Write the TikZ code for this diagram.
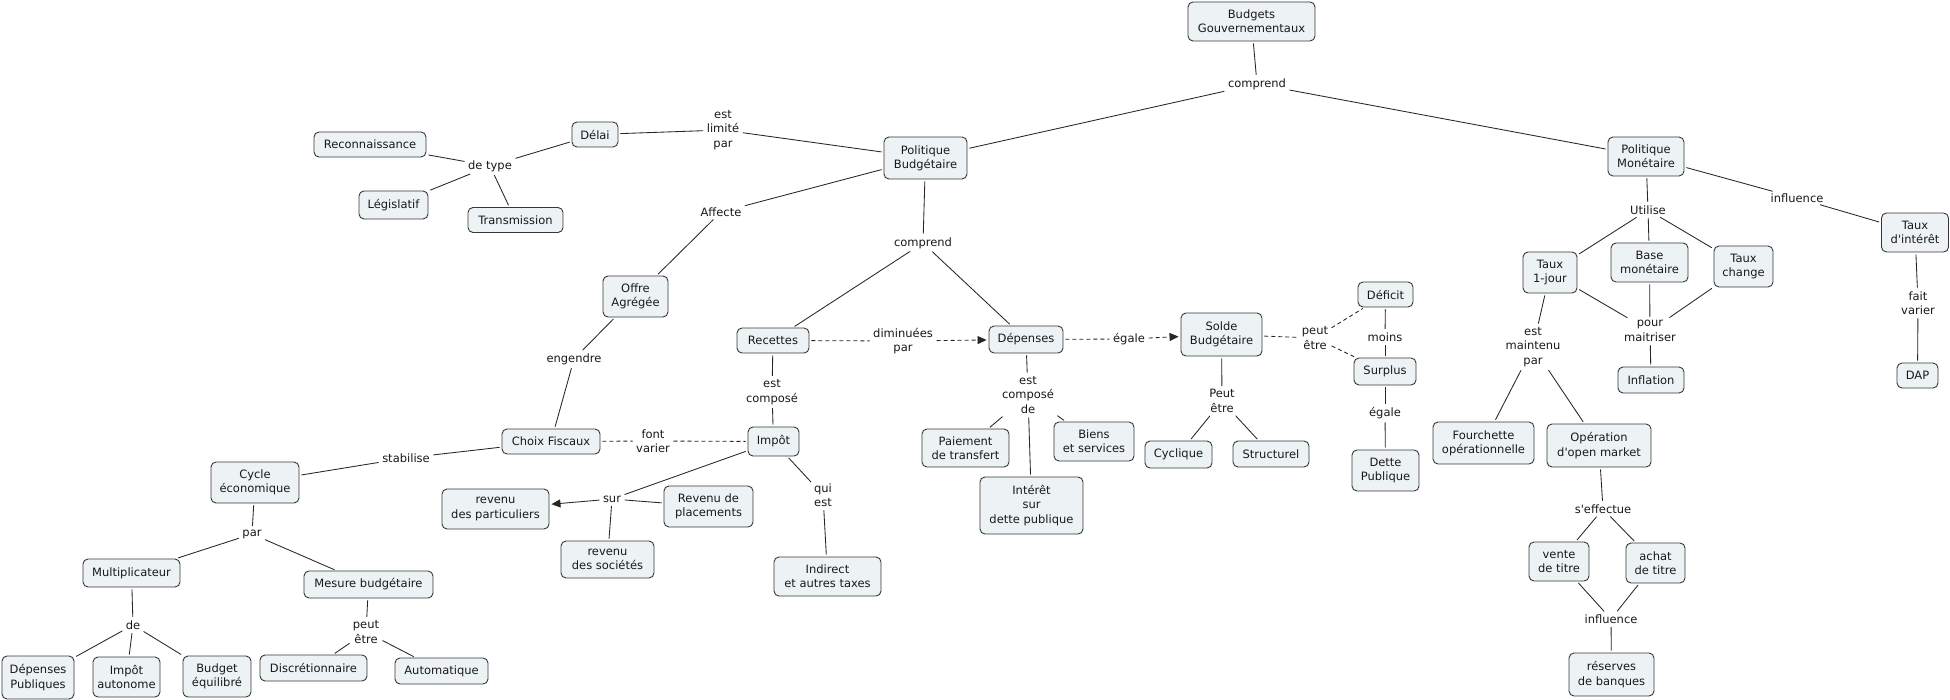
\documentclass[tikz,border=0pt]{standalone}
\usepackage{fontspec}
\setmainfont{DejaVu Sans}[Ligatures=TeXOff]
\usetikzlibrary{arrows.meta}
\definecolor{boxfill}{RGB}{237,243,245}
\definecolor{boxline}{RGB}{55,55,55}
\definecolor{txt}{RGB}{25,25,25}
\tikzset{
  cbox/.style={draw=boxline, fill=boxfill, line width=0.9pt, rounded corners=5pt, align=center, inner sep=2pt, text=txt, font=\fontsize{11.5}{14.3}\selectfont},
  lbl/.style={align=center, inner sep=1.5pt, text=txt, font=\fontsize{11.5}{14.5}\selectfont},
  cn/.style={draw=black!85, line width=0.85pt, shorten <=2pt, shorten >=2pt},
  dcn/.style={cn, dash pattern=on 4pt off 3pt},
  arr/.style={-{Triangle[length=9pt,width=8pt]}},
}
\begin{document}
\begin{tikzpicture}[x=1pt,y=-1pt]
\fill[white] (0,0) rectangle (1950,700);
\useasboundingbox (0,0) rectangle (1950,700);
% concept boxes
\node[cbox,minimum width=127pt,minimum height=39pt] (bg) at (1251.5,21.5) {Budgets\\Gouvernementaux};
\node[cbox,minimum width=83pt,minimum height=42pt] (pb) at (925.5,158) {Politique\\Budgétaire};
\node[cbox,minimum width=76pt,minimum height=39pt] (pm) at (1646,156.5) {Politique\\Monétaire};
\node[cbox,minimum width=46pt,minimum height=25pt] (delai) at (595,134.5) {Délai};
\node[cbox,minimum width=112pt,minimum height=25pt] (recon) at (370,144.5) {Reconnaissance};
\node[cbox,minimum width=69pt,minimum height=28pt] (legis) at (393.5,205) {Législatif};
\node[cbox,minimum width=95pt,minimum height=25pt] (transm) at (515.5,220) {Transmission};
\node[cbox,minimum width=65pt,minimum height=41pt] (offre) at (635.5,296.5) {Offre\\Agrégée};
\node[cbox,minimum width=98pt,minimum height=25pt] (choix) at (551,441.5) {Choix Fiscaux};
\node[cbox,minimum width=88pt,minimum height=41pt] (cycle) at (255,482.5) {Cycle\\économique};
\node[cbox,minimum width=97pt,minimum height=28pt] (multi) at (131.5,573) {Multiplicateur};
\node[cbox,minimum width=129pt,minimum height=27pt] (mesure) at (368.5,584.5) {Mesure budgétaire};
\node[cbox,minimum width=72pt,minimum height=43pt] (deppub) at (38,677.5) {Dépenses\\Publiques};
\node[cbox,minimum width=67pt,minimum height=40pt] (impaut) at (126.5,677) {Impôt\\autonome};
\node[cbox,minimum width=68pt,minimum height=41pt] (budeq) at (217,676.5) {Budget\\équilibré};
\node[cbox,minimum width=107pt,minimum height=26pt] (discr) at (313.5,668) {Discrétionnaire};
\node[cbox,minimum width=93pt,minimum height=26pt] (autom) at (441.5,671) {Automatique};
\node[cbox,minimum width=72pt,minimum height=25pt] (recettes) at (773,340.5) {Recettes};
\node[cbox,minimum width=51pt,minimum height=29pt] (impot) at (773.5,441.5) {Impôt};
\node[cbox,minimum width=107pt,minimum height=40pt] (revpart) at (495.5,509) {revenu\\des particuliers};
\node[cbox,minimum width=89pt,minimum height=41pt] (revplac) at (708.5,506.5) {Revenu de\\placements};
\node[cbox,minimum width=93pt,minimum height=37pt] (revsoc) at (607.5,559.5) {revenu\\des sociétés};
\node[cbox,minimum width=107pt,minimum height=39pt] (indirect) at (827.5,576.5) {Indirect\\et autres taxes};
\node[cbox,minimum width=74pt,minimum height=27pt] (depenses) at (1026,339.5) {Dépenses};
\node[cbox,minimum width=87pt,minimum height=38pt] (paiement) at (965.5,448) {Paiement\\de transfert};
\node[cbox,minimum width=80pt,minimum height=39pt] (biens) at (1094,441.5) {Biens\\et services};
\node[cbox,minimum width=103pt,minimum height=57pt] (interet) at (1031.5,505.5) {Intérêt\\sur\\dette publique};
\node[cbox,minimum width=81pt,minimum height=43pt] (solde) at (1221.5,334.5) {Solde\\Budgétaire};
\node[cbox,minimum width=67pt,minimum height=27pt] (cyclique) at (1178.5,454.5) {Cyclique};
\node[cbox,minimum width=76pt,minimum height=26pt] (struct) at (1271,454) {Structurel};
\node[cbox,minimum width=55pt,minimum height=25pt] (deficit) at (1385.5,294.5) {Déficit};
\node[cbox,minimum width=62pt,minimum height=27pt] (surplus) at (1385,371.5) {Surplus};
\node[cbox,minimum width=67pt,minimum height=41pt] (dette) at (1385.5,470.5) {Dette\\Publique};
\node[cbox,minimum width=54pt,minimum height=41pt] (taux1) at (1550,272.5) {Taux\\1-jour};
\node[cbox,minimum width=77pt,minimum height=39pt] (base) at (1649.5,262.5) {Base\\monétaire};
\node[cbox,minimum width=59pt,minimum height=41pt] (tchange) at (1743.5,266.5) {Taux\\change};
\node[cbox,minimum width=66pt,minimum height=26pt] (inflation) at (1651,380) {Inflation};
\node[cbox,minimum width=101pt,minimum height=42pt] (fourch) at (1483.5,443) {Fourchette\\opérationnelle};
\node[cbox,minimum width=104pt,minimum height=43pt] (oper) at (1599,445.5) {Opération\\d'open market};
\node[cbox,minimum width=60pt,minimum height=39pt] (vente) at (1559,561.5) {vente\\de titre};
\node[cbox,minimum width=59pt,minimum height=40pt] (achat) at (1655.5,563) {achat\\de titre};
\node[cbox,minimum width=85pt,minimum height=43pt] (reserves) at (1611.5,674.5) {réserves\\de banques};
\node[cbox,minimum width=67pt,minimum height=39pt] (tinteret) at (1915,232.5) {Taux\\d'intérêt};
\node[cbox,minimum width=41pt,minimum height=25pt] (dap) at (1917.5,375.5) {DAP};
% linking phrases
\node[lbl] (lcompA) at (1257,84) {comprend};
\node[lbl] (llimite) at (723,130) {est\\limité\\par};
\node[lbl] (ldetype) at (490,166) {de type};
\node[lbl] (laffecte) at (721,212) {Affecte};
\node[lbl] (lcompB) at (923,243) {comprend};
\node[lbl] (lengendre) at (574,359) {engendre};
\node[lbl] (lfontvar) at (653,441) {font\\varier};
\node[lbl] (lstab) at (406,458) {stabilise};
\node[lbl] (lpar) at (252,534) {par};
\node[lbl] (lde) at (133,625) {de};
\node[lbl] (lpeutA) at (366,632) {peut\\être};
\node[lbl] (lestcomp) at (772,392) {est\\composé};
\node[lbl] (ldimin) at (903,341) {diminuées\\par};
\node[lbl] (lsur) at (612,499) {sur};
\node[lbl] (lquiest) at (823,495) {qui\\est};
\node[lbl] (lestcompde) at (1028,395) {est\\composé\\de};
\node[lbl] (legaleA) at (1129,339) {égale};
\node[lbl] (lpeutB) at (1222,401) {Peut\\être};
\node[lbl] (lpeutC) at (1315,338) {peut\\être};
\node[lbl] (lmoins) at (1385,337) {moins};
\node[lbl] (legaleB) at (1385,413) {égale};
\node[lbl] (lutilise) at (1648,210) {Utilise};
\node[lbl] (linflA) at (1797,198) {influence};
\node[lbl] (lfaitvar) at (1918,303) {fait\\varier};
\node[lbl] (lpour) at (1650,331) {pour\\maitriser};
\node[lbl] (lmaintenu) at (1533,347) {est\\maintenu\\par};
\node[lbl] (leffectue) at (1603,509) {s'effectue};
\node[lbl] (linflB) at (1611,619) {influence};
% connectors
\draw[cn] (bg) -- (lcompA);
\draw[cn] (lcompA) -- (pb);
\draw[cn] (lcompA) -- (pm);
\draw[cn] (delai) -- (llimite);
\draw[cn] (llimite) -- (pb);
\draw[cn] (recon) -- (ldetype);
\draw[cn] (legis) -- (ldetype);
\draw[cn] (transm) -- (ldetype);
\draw[cn] (ldetype) -- (delai);
\draw[cn] (pb) -- (laffecte);
\draw[cn] (laffecte) -- (offre);
\draw[cn] (pb) -- (lcompB);
\draw[cn] (lcompB) -- (recettes);
\draw[cn] (lcompB) -- (depenses);
\draw[cn] (offre) -- (lengendre);
\draw[cn] (lengendre) -- (choix);
\draw[dcn] (choix) -- (lfontvar);
\draw[dcn] (lfontvar) -- (impot);
\draw[cn] (choix) -- (lstab);
\draw[cn] (lstab) -- (cycle);
\draw[cn] (cycle) -- (lpar);
\draw[cn] (lpar) -- (multi);
\draw[cn] (lpar) -- (mesure);
\draw[cn] (multi) -- (lde);
\draw[cn] (lde) -- (deppub);
\draw[cn] (lde) -- (impaut);
\draw[cn] (lde) -- (budeq);
\draw[cn] (mesure) -- (lpeutA);
\draw[cn] (lpeutA) -- (discr);
\draw[cn] (lpeutA) -- (autom);
\draw[cn] (recettes) -- (lestcomp);
\draw[cn] (lestcomp) -- (impot);
\draw[dcn] (recettes) -- (ldimin);
\draw[dcn,arr] (ldimin) -- (depenses);
\draw[cn] (impot) -- (lsur);
\draw[cn,arr] (lsur) -- (revpart);
\draw[cn] (lsur) -- (revplac);
\draw[cn] (lsur) -- (revsoc);
\draw[cn] (impot) -- (lquiest);
\draw[cn] (lquiest) -- (indirect);
\draw[cn] (depenses) -- (lestcompde);
\draw[cn] (lestcompde) -- (paiement);
\draw[cn] (lestcompde) -- (biens);
\draw[cn] (lestcompde) -- (interet);
\draw[dcn] (depenses) -- (legaleA);
\draw[dcn,arr] (legaleA) -- (solde);
\draw[cn] (solde) -- (lpeutB);
\draw[cn] (lpeutB) -- (cyclique);
\draw[cn] (lpeutB) -- (struct);
\draw[dcn] (solde) -- (lpeutC);
\draw[dcn] (lpeutC) -- (deficit);
\draw[dcn] (lpeutC) -- (surplus);
\draw[cn] (deficit) -- (lmoins);
\draw[cn] (lmoins) -- (surplus);
\draw[cn] (surplus) -- (legaleB);
\draw[cn] (legaleB) -- (dette);
\draw[cn] (pm) -- (lutilise);
\draw[cn] (lutilise) -- (taux1);
\draw[cn] (lutilise) -- (base);
\draw[cn] (lutilise) -- (tchange);
\draw[cn] (pm) -- (linflA);
\draw[cn] (linflA) -- (tinteret);
\draw[cn] (tinteret) -- (lfaitvar);
\draw[cn] (lfaitvar) -- (dap);
\draw[cn] (taux1) -- (lpour);
\draw[cn] (base) -- (lpour);
\draw[cn] (tchange) -- (lpour);
\draw[cn] (lpour) -- (inflation);
\draw[cn] (taux1) -- (lmaintenu);
\draw[cn] (lmaintenu) -- (fourch);
\draw[cn] (lmaintenu) -- (oper);
\draw[cn] (oper) -- (leffectue);
\draw[cn] (leffectue) -- (vente);
\draw[cn] (leffectue) -- (achat);
\draw[cn] (vente) -- (linflB);
\draw[cn] (achat) -- (linflB);
\draw[cn] (linflB) -- (reserves);
\end{tikzpicture}
\end{document}
